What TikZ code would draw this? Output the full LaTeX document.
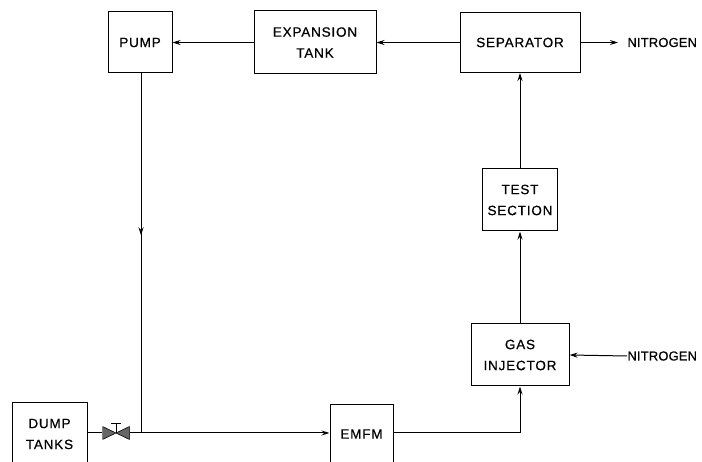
\documentclass[tikz,border=0pt]{standalone}
\usepackage{fontspec}
\setmainfont{Liberation Sans}[LetterSpace=6, FakeBold=0.6]
\newfontfamily\gasfont{Liberation Sans}[LetterSpace=1, FakeBold=0.6]
\usetikzlibrary{arrows.meta,decorations.markings}

\begin{document}
\begin{tikzpicture}
    [x=1pt, y=-1pt,
    ->-/.style={decoration={markings, mark=at position 0.45 with {\arrow{Stealth[length=8pt,width=5pt]}}},postaction={decorate}},
    flow/.style={-{Stealth[length=8pt,width=5pt]}},
    line width=1pt,
    box/.style={draw, inner sep=0pt, align=center, font=\fontsize{13.5}{21}\selectfont},
    gas/.style={inner sep=0pt, anchor=west, font=\gasfont\fontsize{13}{15}\selectfont},
    valve/.style={minimum width=27pt, minimum height=13pt, inner sep=0pt,
      path picture={\filldraw[fill=gray!80!black, line width=0.6pt]
        (path picture bounding box.north west) -- (path picture bounding box.south east)
        -- (path picture bounding box.north east) -- (path picture bounding box.south west) -- cycle;}}]
        \clip (0,0) rectangle (702,462);

        %% Upper loop
        \node[box, minimum width=64pt, minimum height=61pt] (pump) at (140,42.5) {PUMP};
        \node[box, minimum width=122pt, minimum height=63pt] (exptank) at (315,42.5) {EXPANSION\\TANK};
        \node[box, minimum width=120pt, minimum height=60pt] (sep) at (520,42.5) {SEPARATOR};
        \node[gas] (nout) at (627,42.5) {NITROGEN};

        %% Riser
        \node[box, minimum width=75pt, minimum height=62pt] (test) at (520,200) {TEST\\SECTION};
        \node[box, minimum width=98pt, minimum height=62pt] (inj) at (520,355) {GAS\\INJECTOR};
        \node[gas] (nin) at (627,356) {NITROGEN};

        %% Bottom line
        \node[box, minimum width=75pt, minimum height=62pt] (dump) at (49.5,434) {DUMP\\TANKS};
        \node[valve] (valve) at (116,433) {};
        \node[box, minimum width=63pt, minimum height=58pt] (emfm) at (361.5,434) {EMFM};
        \coordinate (tee) at (141,433);

        \draw[flow] (exptank) -- (pump);
        \draw[flow] (sep) -- (exptank);
        \draw[flow, shorten >=9pt] (sep) -- (nout.west);
        \draw[flow] (test) -- (sep);
        \draw[flow] (inj) -- (test);
        \draw[flow] (nin.west) -- (inj.east);
        \draw[->-] (pump.south -| tee) -- (tee);
        \draw (dump.east |- valve) -- (valve.west);
        \draw[flow] (valve.east) -- (emfm.west |- valve);
        \draw[flow] (emfm.east |- valve) -| (inj.south);
        \draw (valve.center) -- ++(0,-9) ++(-5,0) -- ++(10,0);
\end{tikzpicture}
\end{document}
